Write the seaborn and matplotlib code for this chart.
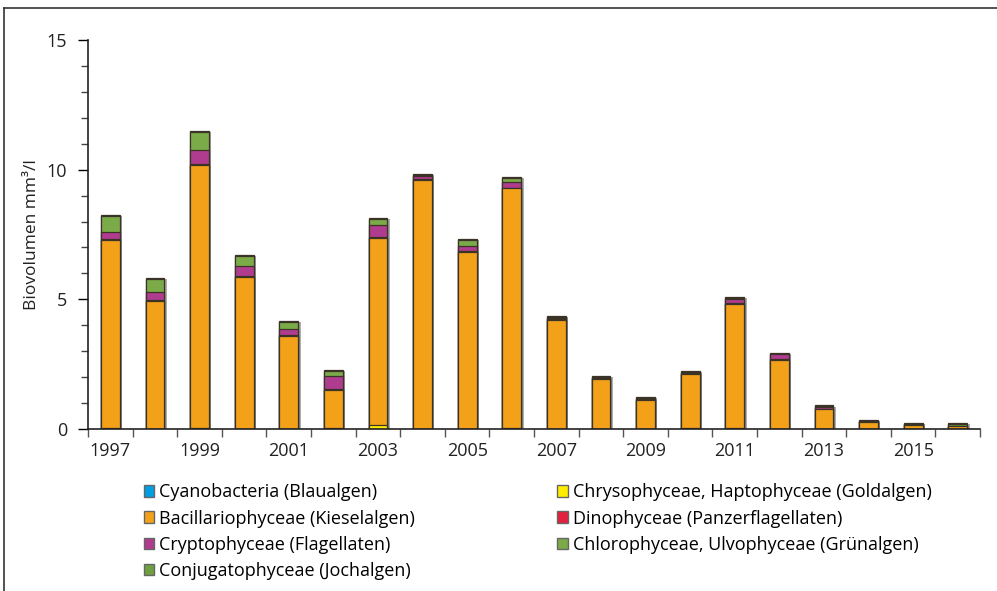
import numpy as np
import pandas as pd
import matplotlib
matplotlib.use('Agg')
import matplotlib.pyplot as plt
import matplotlib.patheffects as pe
from matplotlib.patches import Patch
from matplotlib.lines import Line2D
import seaborn as sns

years = [str(y) for y in range(1997, 2017)]

# Biovolumen mm³/l je Algengruppe (von unten nach oben gestapelt)
cyano = [0.00, 0.00, 0.00, 0.00, 0.00, 0.00, 0.00, 0.00, 0.00, 0.00,
         0.00, 0.00, 0.00, 0.00, 0.00, 0.00, 0.00, 0.00, 0.00, 0.00]
chryso = [0.02, 0.00, 0.02, 0.00, 0.00, 0.02, 0.14, 0.00, 0.00, 0.02,
          0.00, 0.00, 0.00, 0.02, 0.02, 0.00, 0.01, 0.00, 0.00, 0.00]
bacillario = [7.28, 4.94, 10.17, 5.88, 3.59, 1.50, 7.24, 9.62, 6.84, 9.26,
              4.21, 1.93, 1.10, 2.10, 4.80, 2.68, 0.75, 0.26, 0.17, 0.13]
dino = [0.03, 0.03, 0.03, 0.03, 0.03, 0.03, 0.03, 0.03, 0.03, 0.03,
        0.03, 0.02, 0.02, 0.02, 0.03, 0.03, 0.03, 0.02, 0.01, 0.00]
crypto = [0.27, 0.33, 0.52, 0.36, 0.22, 0.50, 0.45, 0.09, 0.17, 0.21,
          0.05, 0.04, 0.04, 0.03, 0.15, 0.17, 0.05, 0.02, 0.02, 0.00]
chloro = [0.62, 0.47, 0.71, 0.39, 0.29, 0.19, 0.23, 0.05, 0.25, 0.16,
          0.04, 0.01, 0.03, 0.03, 0.05, 0.01, 0.03, 0.02, 0.00, 0.05]
conjugato = [0.04, 0.04, 0.04, 0.04, 0.03, 0.04, 0.04, 0.04, 0.04, 0.04,
             0.04, 0.04, 0.04, 0.04, 0.03, 0.03, 0.04, 0.04, 0.03, 0.04]

labels = ['Cyanobacteria (Blaualgen)',
          'Chrysophyceae, Haptophyceae (Goldalgen)',
          'Bacillariophyceae (Kieselalgen)',
          'Dinophyceae (Panzerflagellaten)',
          'Cryptophyceae (Flagellaten)',
          'Chlorophyceae, Ulvophyceae (Grünalgen)',
          'Conjugatophyceae (Jochalgen)']
colors = ['#009fe3', '#ffed00', '#f4a11a', '#e4203f', '#b03c8f', '#7aab48', '#6f9f40']
series = [cyano, chryso, bacillario, dino, crypto, chloro, conjugato]

plt.rcParams['font.family'] = ['Open Sans', 'DejaVu Sans']

fig = plt.figure(figsize=(9.97, 5.91), dpi=100)
ax = fig.add_axes([0.0883, 0.2741, 0.8947, 0.6582])

cum = np.cumsum(np.array(series), axis=0)
shadow = [pe.SimplePatchShadow(offset=(1.8, -0.8), shadow_rgbFace='0.55', alpha=0.7), pe.Normal()]

# vom obersten Segment nach unten zeichnen, damit die Stapel sichtbar bleiben
for i in range(len(series) - 1, -1, -1):
    df = pd.DataFrame({'Jahr': years, 'Wert': cum[i]})
    sns.barplot(data=df, x='Jahr', y='Wert', order=years, color=colors[i],
                width=0.42, edgecolor='#3b3326', linewidth=0.9, saturation=1,
                ax=ax, zorder=2)
    if i == len(series) - 1:
        for p in ax.patches:
            p.set_path_effects(shadow)

ax.set_xlim(-0.5, 19.5)
ax.set_ylim(0, 15)
ax.set_xticks(range(20))
ax.set_xticklabels([y if int(y) % 2 == 1 else '' for y in years], fontsize=13, color='#222222')
ax.set_xticks(np.arange(-0.5, 20, 1), minor=True)
ax.tick_params(axis='x', which='major', length=0, pad=9)
ax.tick_params(axis='x', which='minor', length=6, width=1, color='#555555')
ax.set_yticks([0, 5, 10, 15])
ax.set_yticks(range(16), minor=True)
ax.tick_params(axis='y', which='major', length=7, width=1, labelsize=13, labelcolor='#222222', pad=8)
ax.tick_params(axis='y', which='minor', length=5, width=1, color='#444444')
ax.set_xlabel('')
ax.set_ylabel('Biovolumen mm³/l', fontsize=12.5, color='#222222', labelpad=5)
for s in ['top', 'right']:
    ax.spines[s].set_visible(False)
for s in ['left', 'bottom']:
    ax.spines[s].set_color('#222222')
    ax.spines[s].set_linewidth(1.2)

# Legende zeilenweise (zwei Spalten)
handles = [Patch(facecolor=c, edgecolor='#666666', linewidth=1) for c in colors]
order = [0, 2, 4, 6, 1, 3, 5]
fig.legend([handles[i] for i in order], [labels[i] for i in order],
           loc='upper left', bbox_to_anchor=(0.144, 0.182), ncol=2, frameon=False,
           fontsize=13, handlelength=0.6, handleheight=0.6, handletextpad=0.25,
           labelspacing=0.45, columnspacing=7.9, borderaxespad=0, borderpad=0)

# Rahmen links und oben
fig.add_artist(Line2D([0.004, 0.004], [0, 0.9865], transform=fig.transFigure, color='#333333', lw=1.2))
fig.add_artist(Line2D([0.004, 1], [0.9865, 0.9865], transform=fig.transFigure, color='#333333', lw=1.2))

fig.savefig('out.png', dpi=100)
